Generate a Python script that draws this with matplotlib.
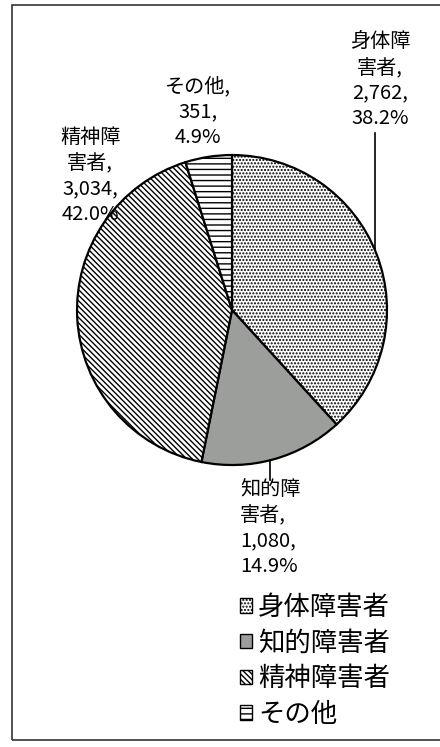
import numpy as np
import matplotlib
matplotlib.use("Agg")
import matplotlib.pyplot as plt
from matplotlib.patches import Rectangle

plt.rcParams['font.family'] = ['Noto Sans CJK JP', 'DejaVu Sans']
plt.rcParams['hatch.linewidth'] = 1.0

# data
categories = ['身体障害者', '知的障害者', '精神障害者', 'その他']
label_names = ['身体障\n害者', '知的障\n害者', '精神障\n害者', 'その他']
counts = [2762, 1080, 3034, 351]
shares = [38.2, 14.9, 42.0, 4.9]

colors = ['white', '#9c9e9c', 'white', 'white']
hatches = ['.....', '', '\\\\\\\\\\\\', '---']

fig = plt.figure(figsize=(4.4, 7.47), dpi=100)
ax = fig.add_axes([0, 0, 1, 1])

wedges, _ = ax.pie(counts, startangle=90, counterclock=False, colors=colors,
                   wedgeprops=dict(edgecolor='black', linewidth=1.6))
for w, h in zip(wedges, hatches):
    w.set_hatch(h)

ax.set_xlim(-1.497, 1.342)
ax.set_ylim(-2.819, 2.0)
ax.set_aspect('equal')
ax.axis('off')

texts = [f'{n},\n{c:,},\n{s:.1f}%' for n, c, s in zip(label_names, counts, shares)]
txt_kw = dict(fontsize=14.5, linespacing=1.28, va='center')

# label placement (layout only)
ax.text(0.955, 1.484, texts[0], ha='center', multialignment='center', **txt_kw)
ax.text(0.052, -1.406, texts[1], ha='left', multialignment='left', **txt_kw)
ax.text(-0.916, 0.865, texts[2], ha='center', multialignment='center', **txt_kw)
ax.text(-0.219, 1.277, texts[3], ha='center', multialignment='center', **txt_kw)

# leader lines
x0 = 0.923
ax.plot([x0, x0], [1.142, np.sqrt(1 - x0 ** 2)], color='black', lw=1.2)
x1 = 0.245
ax.plot([x1, x1], [-np.sqrt(1 - x1 ** 2), -1.097], color='black', lw=1.2)

leg = fig.legend(wedges, categories, loc='upper left', bbox_to_anchor=(0.545, 0.205),
                 frameon=False, fontsize=19, handlelength=0.45, handleheight=0.45,
                 handletextpad=0.25, labelspacing=0.33, borderpad=0, borderaxespad=0)
for p in leg.get_patches():
    p.set_linewidth(1.0)

fig.patches.append(Rectangle((12 / 440, 1 - 740 / 747), 1.0, (735 / 747),
                             transform=fig.transFigure, fill=False,
                             edgecolor='#333333', linewidth=1.2))

fig.savefig('out.png', dpi=100)
